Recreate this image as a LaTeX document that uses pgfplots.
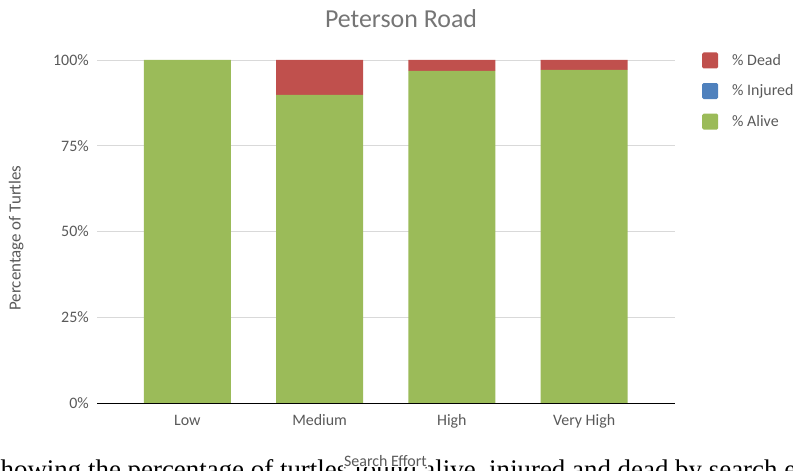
\documentclass[border=0pt]{standalone}
\usepackage{fontspec}
\setmainfont{Carlito}
\newfontfamily\capfont{Liberation Serif}
\usepackage{pgfplots}
\pgfplotsset{compat=1.18}
\definecolor{cDead}{HTML}{C0504D}
\definecolor{cInj}{HTML}{4F81BD}
\definecolor{cAlive}{HTML}{9BBB59}
\definecolor{txt}{HTML}{595959}
\definecolor{ttl}{HTML}{757575}
\definecolor{grid}{HTML}{D9D9D9}
\begin{document}
\begin{tikzpicture}[x=1bp,y=1bp]
\node[anchor=base west, inner sep=0pt, font=\capfont\fontsize{27}{31}\selectfont] at (-10bp,-7bp)
  {showing the percentage of turtles found alive, injured and dead by search effort};
\begin{axis}[
  at={(97bp,68bp)}, anchor=south west,
  scale only axis, width=578bp, height=343bp,
  ybar stacked, bar width=87bp,
  xmin=-0.683, xmax=3.687, ymin=0, ymax=100,
  xtick={0,1,2,3}, xticklabels={Low,Medium,High,Very High},
  ytick={0,25,50,75,100},
  yticklabel={\pgfmathprintnumber{\tick}\%},
  /pgf/number format/assume math mode=true,
  ymajorgrids, grid style={draw=grid, line width=0.8bp},
  axis x line*=bottom, axis y line*=left,
  y axis line style={draw=none},
  x axis line style={draw=black, line width=0.9bp, -},
  major tick length=0pt, tick style={draw=none},
  ticklabel style={font=\fontsize{16}{19}\selectfont, text=txt},
  yticklabel style={anchor=east, inner sep=0pt, xshift=-8bp},
  xticklabel style={anchor=base, inner sep=0pt, yshift=-22bp},
  xlabel={Search Effort},
  xlabel style={font=\fontsize{16}{19}\selectfont, text=txt, fill=white, inner sep=1bp, at={(axis description cs:0.499,-0.184)}, anchor=base},
  ylabel={Percentage of Turtles},
  ylabel style={font=\fontsize{17}{20}\selectfont, text=txt, at={(axis description cs:-0.140,0.481)}, anchor=center, rotate=0},
  every axis title shift=0pt,
  title={Peterson Road},
  title style={font=\fontsize{26}{30}\selectfont, text=ttl, at={(axis description cs:0.526,1.0933)}, anchor=base},
  legend style={at={(axis description cs:1.0467,1.0233)}, anchor=north west, draw=none, fill=none,
    font=\fontsize{16}{19}\selectfont, text=txt, row sep=14bp, inner sep=0pt,
    /tikz/every odd column/.append style={column sep=12bp}},
  legend cell align=left,
  legend image code/.code={\fill[#1, draw=none, rounded corners=1.5bp] (0bp,-8bp) rectangle (16bp,8bp);},
  reverse legend,
  draw=none,
]
\addplot[fill=cAlive, draw=none] coordinates {(0,100) (1,89.8) (2,96.8) (3,97.1)};
\addlegendentry{\% Alive}
\addplot[fill=cInj, draw=none] coordinates {(0,0) (1,0) (2,0) (3,0)};
\addlegendentry{\% Injured}
\addplot[fill=cDead, draw=none] coordinates {(0,0) (1,10.2) (2,3.2) (3,2.9)};
\addlegendentry{\% Dead}
\end{axis}
\pgfresetboundingbox
\useasboundingbox (0,0) rectangle (793bp,471bp);
\end{tikzpicture}
\end{document}
